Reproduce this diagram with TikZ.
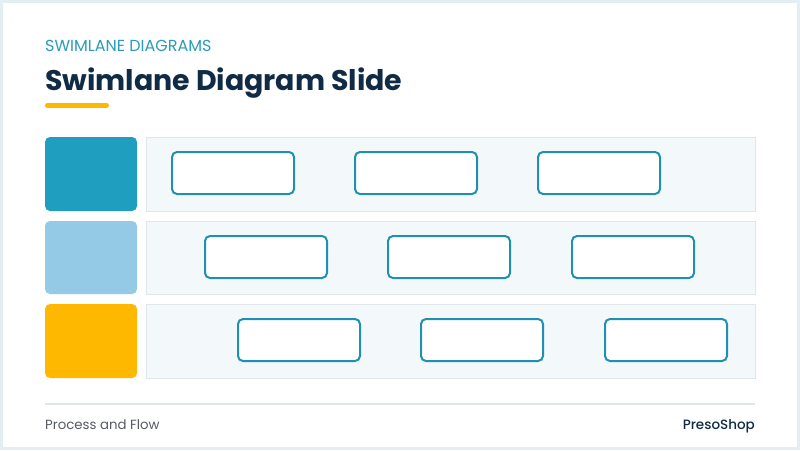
\documentclass[tikz,border=0pt]{standalone}
\usepackage{fontspec}
\setmainfont{Poppins}
\newfontfamily\popb{Poppins}[UprightFont=* Medium]
\definecolor{teal}{HTML}{2A9DB8}
\definecolor{navy}{HTML}{0F2B45}
\definecolor{gold}{HTML}{FFB800}
\definecolor{lblue}{HTML}{94CAE6}
\definecolor{hteal}{HTML}{1F9EBF}
\definecolor{lanefill}{HTML}{F3F8FB}
\definecolor{laneline}{HTML}{DFE7EB}
\definecolor{boxline}{HTML}{2190B0}
\definecolor{frame}{HTML}{E3EEF2}
\definecolor{foot}{HTML}{555B63}
\begin{document}
\begin{tikzpicture}[x=1pt,y=-1pt,
  hdr/.style={rounded corners=5pt},
  lane/.style={fill=lanefill,draw=laneline,line width=1pt},
  stepbox/.style={draw=boxline,fill=white,line width=2pt,rounded corners=5pt,minimum width=122pt,minimum height=42pt,inner sep=0pt}]
\useasboundingbox (0,0) rectangle (800,450);
\fill[frame] (0,0) rectangle (800,450);
\fill[white] (3,3) rectangle (797,447);
\node[anchor=base west,text=teal,font=\fontsize{16}{18}\selectfont,inner sep=0pt] (kicker) at (45,51) {SWIMLANE DIAGRAMS};
\node[anchor=base west,text=navy,font=\fontsize{28.4}{32}\bfseries\selectfont,inner sep=0pt] (title) at (45,90) {Swimlane Diagram Slide};
\draw[gold,line width=5pt,line cap=round] (47.5,105.5) -- (106.5,105.5);
% lane headers
\fill[hteal,hdr] (45,137) rectangle (137,211);
\fill[lblue,hdr] (45,221) rectangle (137,294);
\fill[gold,hdr] (45,304) rectangle (137,378);
% lanes
\draw[lane] (146,137) rectangle (755,211);
\draw[lane] (146,221) rectangle (755,294);
\draw[lane] (146,304) rectangle (755,378);
% boxes
\node[stepbox] (a1) at (233,173) {};
\node[stepbox] (a2) at (416,173) {};
\node[stepbox] (a3) at (599,173) {};
\node[stepbox] (b1) at (266,257) {};
\node[stepbox] (b2) at (449,257) {};
\node[stepbox] (b3) at (633,257) {};
\node[stepbox] (c1) at (299,340) {};
\node[stepbox] (c2) at (482,340) {};
\node[stepbox] (c3) at (666,340) {};
% footer
\draw[laneline,line width=1.2pt] (45,404) -- (755,404);
\node[anchor=base west,text=foot,font=\fontsize{13.3}{15}\selectfont,inner sep=0pt] (fl) at (45,429) {Process and Flow};
\node[anchor=base east,text=navy,font=\fontsize{13.5}{15}\popb,inner sep=0pt] (fr) at (755,429) {PresoShop};
\end{tikzpicture}
\end{document}
